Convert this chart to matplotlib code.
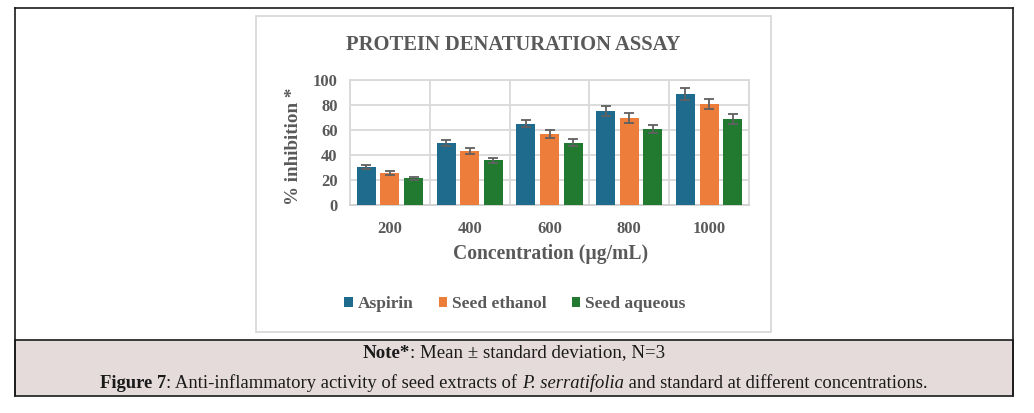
import matplotlib
matplotlib.use('Agg')
import matplotlib.pyplot as plt
import numpy as np
from matplotlib.patches import Rectangle

# ---- data ----
categories = ['200', '400', '600', '800', '1000']
series_names = ['Aspirin', 'Seed ethanol', 'Seed aqueous']
aspirin = [30.4, 49.7, 65.0, 75.3, 88.9]
aspirin_sd = [1.6, 2.4, 2.7, 4.0, 4.5]
ethanol = [25.6, 43.2, 57.0, 69.5, 81.0]
ethanol_sd = [1.5, 2.7, 3.1, 4.0, 4.1]
aqueous = [21.5, 36.0, 50.0, 60.8, 68.8]
aqueous_sd = [1.3, 2.0, 2.9, 3.1, 4.0]
yticks = [0, 20, 40, 60, 80, 100]

title = 'PROTEIN DENATURATION ASSAY'
ylabel = '% inhibition *'
xlabel = 'Concentration (\u00b5g/mL)'

# ---- styles ----
colors = ['#1F6B8E', '#ED7D3B', '#217A30']
gray = '#595959'
grid = '#D9D9D9'
SERIF = ['Liberation Serif', 'DejaVu Serif']

W, H = 1034, 413
fig = plt.figure(figsize=(W / 100, H / 100), dpi=100)
renderer = fig.canvas.get_renderer()

bg = fig.add_axes([0, 0, 1, 1], zorder=0)
bg.set_xlim(0, W)
bg.set_ylim(H, 0)
bg.axis('off')


def fit_width(t, target):
    bb = t.get_window_extent(renderer=renderer)
    t.set_fontsize(t.get_fontsize() * target / bb.width)


def fit_height(t, target):
    bb = t.get_window_extent(renderer=renderer)
    t.set_fontsize(t.get_fontsize() * target / bb.height)


# outer frame and caption band
bg.add_patch(Rectangle((15, 340), 998, 56, facecolor='#E6DBDB', edgecolor='#1a1a1a', lw=1.2))
bg.plot([15, 1013], [8, 8], color='#1a1a1a', lw=1.2)
bg.plot([15, 15], [8, 396], color='#1a1a1a', lw=1.2)
bg.plot([1013, 1013], [8, 396], color='#1a1a1a', lw=1.2)
# chart box
bg.add_patch(Rectangle((256, 16), 515, 316, fill=False, edgecolor=grid, lw=1.3))

# title & axis labels
t = bg.text(513, 45, title, ha='center', va='center', fontsize=14, fontweight='bold',
            family=SERIF, color=gray)
fit_width(t, 337)
t = bg.text(551, 254, xlabel, ha='center', va='center', fontsize=13, fontweight='bold',
            family=SERIF, color=gray)
fit_width(t, 195)
t = bg.text(294, 146, ylabel, ha='center', va='center', rotation=90, fontsize=13,
            fontweight='bold', family=SERIF, color=gray)
fit_height(t, 117)

# ---- main axes ----
ax = fig.add_axes([350 / W, 1 - 205 / H, 399 / W, 125 / H], zorder=1)
ax.patch.set_alpha(0)
x = np.arange(len(categories))
step, width = 0.296, 0.24
data = [(aspirin, aspirin_sd), (ethanol, ethanol_sd), (aqueous, aqueous_sd)]
handles = []
for i, (vals, sd) in enumerate(data):
    b = ax.bar(x + (i - 1) * step, vals, width, color=colors[i], zorder=3,
               label=series_names[i])
    ax.errorbar(x + (i - 1) * step, vals, yerr=sd, fmt='none', ecolor='#606060',
                elinewidth=1.3, capsize=3.3, capthick=1.3, zorder=4)
    handles.append(b)

ax.set_xlim(-0.5, len(categories) - 0.5)
ax.set_ylim(0, 100)
ax.set_yticks(yticks)
ax.set_xticks(x, categories)
ax.set_xticks(np.arange(len(categories) + 1) - 0.5, minor=True)
ax.grid(axis='y', which='major', color=grid, lw=1.3, zorder=0)
ax.grid(axis='x', which='minor', color=grid, lw=1.3, zorder=0)
ax.grid(axis='x', which='major', visible=False)
for s in ax.spines.values():
    s.set_color(grid)
    s.set_linewidth(1.3)
ax.spines['bottom'].set_color('#CFCFCF')
ax.tick_params(which='both', length=0)
ax.tick_params(axis='x', pad=11.5)
ax.tick_params(axis='y', pad=9)
for lab in ax.get_xticklabels() + ax.get_yticklabels():
    lab.set_family(SERIF)
    lab.set_fontweight('bold')
    lab.set_color(gray)
    lab.set_fontsize(11)
# fit tick label size to "1000" width ~33 px
lab = ax.get_xticklabels()[-1]
sz = 11 * 33 / lab.get_window_extent(renderer=renderer).width
for lab in ax.get_xticklabels() + ax.get_yticklabels():
    lab.set_fontsize(sz)

leg = ax.legend(handles=handles, loc='center', bbox_to_anchor=(515 / W, 1 - 304 / H),
                bbox_transform=fig.transFigure, ncol=3, frameon=False,
                prop={'family': SERIF, 'weight': 'bold', 'size': 12.5},
                handlelength=0.47, handleheight=0.47, handletextpad=0.3,
                columnspacing=1.45)
for txt in leg.get_texts():
    txt.set_color(gray)

# ---- caption (mixed styles) ----
def mixed_line(parts, cx, cy, size, target=None):
    def build(sz):
        arts = []
        for s, w, st in parts:
            a = bg.text(0, cy, s, ha='left', va='center', fontsize=sz, fontweight=w,
                        fontstyle=st, family=SERIF, color='#1a1a1a')
            arts.append(a)
        widths = [a.get_window_extent(renderer=renderer).width for a in arts]
        return arts, widths
    arts, widths = build(size)
    if target is not None:
        size = size * target / sum(widths)
        for a in arts:
            a.remove()
        arts, widths = build(size)
    xx = cx - sum(widths) / 2
    for a, w in zip(arts, widths):
        a.set_x(xx)
        xx += w


mixed_line([('Note*', 'bold', 'normal'), (': Mean \u00b1 standard deviation, N=3', 'normal', 'normal')],
           514, 353, 11, target=301)
mixed_line([('Figure 7', 'bold', 'normal'),
            (': Anti-inflammatory activity of seed extracts of ', 'normal', 'normal'),
            ('P. serratifolia', 'normal', 'italic'),
            (' and standard at different concentrations.', 'normal', 'normal')],
           514, 383, 11, target=827)

fig.savefig('out.png', dpi=100)
